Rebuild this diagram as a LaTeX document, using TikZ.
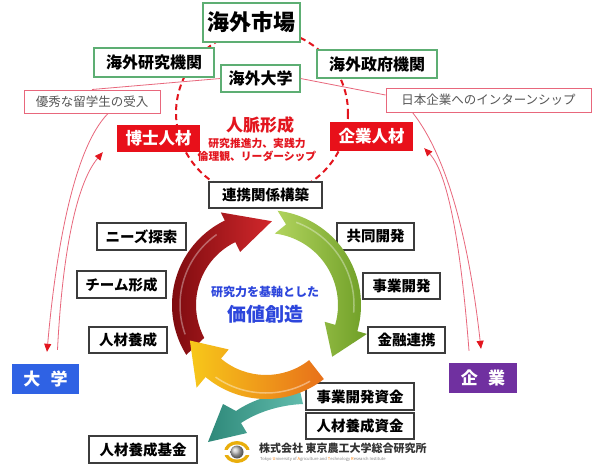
\documentclass[tikz,border=0pt]{standalone}
\usepackage{fontspec}
\setmainfont{Noto Sans CJK JP}
\usetikzlibrary{arrows.meta,calc,shadows}

\definecolor{mktgreen}{HTML}{5DAE73}
\definecolor{linkpink}{HTML}{E8677C}
\definecolor{boxred}{HTML}{E8101A}
\definecolor{dashred}{HTML}{E3151E}
\definecolor{unitblue}{HTML}{2F62E4}
\definecolor{firmpurple}{HTML}{7030A0}
\definecolor{frame}{HTML}{3C3C3C}
\definecolor{txtgray}{HTML}{555555}
\definecolor{coreblue}{HTML}{2D46DC}
\definecolor{redA}{HTML}{7A0A0E}
\definecolor{redB}{HTML}{D2282C}
\definecolor{grnA}{HTML}{B2D45E}
\definecolor{grnB}{HTML}{6E9E26}
\definecolor{yelA}{HTML}{F7C81A}
\definecolor{yelB}{HTML}{E8701A}
\definecolor{teal}{HTML}{3AAB98}
\definecolor{logogold}{HTML}{E9AE0C}

\newcommand{\fsz}[1]{\fontsize{#1}{#1}\selectfont}

\begin{document}
\begin{tikzpicture}[x=1pt,y=-1pt,
  greenbox/.style={draw=mktgreen, line width=1.2pt, fill=white, inner sep=0pt, font=\bfseries\fsz{16}},
  pinkbox/.style={draw=linkpink, line width=1pt, fill=white, inner sep=0pt, text=txtgray, font=\fsz{12.5}},
  redbox/.style={fill=boxred, inner sep=0pt, text=white, font=\bfseries\fsz{16.5}},
  tagbox/.style={draw=frame, line width=1.1pt, fill=white, inner sep=0pt, font=\bfseries\fsz{14.5},
    drop shadow={shadow xshift=1.3pt, shadow yshift=-1.3pt, opacity=0.3, fill=gray}},
  unitbox/.style={inner sep=0pt, text=white, font=\bfseries\fsz{17}},
  pinkline/.style={draw=linkpink, line width=0.8pt},
  tip/.style={-{Triangle[width=7pt,length=8pt,color=dashred]}}
]
\useasboundingbox (0,0) rectangle (596,471);
\fill[white] (0,0) rectangle (596,471);

% network ring of overseas partners
\draw[dashred, line width=2pt, dash pattern=on 6pt off 4pt] (262,113) ellipse [x radius=86, y radius=84];

% overseas partners
\node[greenbox, minimum width=97pt, minimum height=39pt, font=\bfseries\fsz{22}] (market) at (251.5,22.5) {海外市場};
\node[greenbox, minimum width=120pt, minimum height=29pt] (lab) at (154,62.5) {海外研究機関};
\node[greenbox, minimum width=79pt, minimum height=27pt] (univ) at (260.5,78.5) {海外大学};
\node[greenbox, minimum width=120pt, minimum height=28pt] (gov) at (377,64) {海外政府機関};

% exchange programmes
\node[pinkbox, minimum width=136pt, minimum height=23pt] (ryugaku) at (92,101.5) {優秀な留学生の受入};
\node[pinkbox, minimum width=205pt, minimum height=24pt] (intern) at (488.5,100) {日本企業へのインターンシップ};

% talent
\node[redbox, minimum width=83pt, minimum height=27pt] (hakase) at (158.5,138.5) {博士人材};
\node[redbox, minimum width=83pt, minimum height=29pt] (kigyojin) at (371.5,136.5) {企業人材};
\node[text=dashred, font=\bfseries\fsz{17}] (jinmyaku) at (260,125) {人脈形成};
\node[text=dashred, font=\bfseries\fsz{10.8}, align=center] (skills) at (257,150) {研究推進力、実践力\\[1.5pt]倫理観、リーダーシップ};

% home players
\node[unitbox, fill=unitblue, minimum width=67pt, minimum height=30pt] (daigaku) at (45.5,379) {大\hspace{0.6em}学};
\node[unitbox, fill=firmpurple, minimum width=68pt, minimum height=30pt] (kigyo) at (483,378) {企\hspace{0.6em}業};

% links between partners and programmes
\draw[pinkline] (univ.west) -- (ryugaku.north);
\draw[pinkline] (univ.east) -- ($(intern.north west)!0.3!(intern.south west)$);
\draw[pinkline, tip] ([xshift=16pt]ryugaku.south) .. controls (72,150) and (55,260) .. ([xshift=1.5pt,yshift=12pt]daigaku.north);
\draw[pinkline, tip] ([xshift=12pt,yshift=14pt]daigaku.north) .. controls (62,260) and (75,185) .. ([xshift=-14pt]hakase.south west);
\draw[pinkline, tip] ([xshift=27pt]intern.south west) .. controls (450,160) and (470,250) .. ([xshift=-2pt,yshift=14pt]kigyo.north);
\draw[pinkline, tip] ([xshift=-14pt,yshift=12pt]kigyo.north) .. controls (462,260) and (450,175) .. ([xshift=11pt,yshift=3pt]kigyojin.south east);

% activity tags
\node[tagbox, minimum width=113pt, minimum height=26pt] (renkei) at (265.5,195) {連携関係構築};
\node[tagbox, minimum width=89pt, minimum height=27pt] (needs) at (141.5,236.5) {ニーズ探索};
\node[tagbox, minimum width=89pt, minimum height=27pt] (team) at (121.5,284.5) {チーム形成};
\node[tagbox, minimum width=78pt, minimum height=26pt] (yousei) at (128,340) {人材養成};
\node[tagbox, minimum width=108pt, minimum height=27pt] (kikin) at (143,449.5) {人材養成基金};
\node[tagbox, minimum width=77pt, minimum height=27pt] (kyodo) at (375.5,236.5) {共同開発};
\node[tagbox, minimum width=77pt, minimum height=26pt] (jigyo) at (401.5,286) {事業開発};
\node[tagbox, minimum width=77pt, minimum height=26pt] (kinyu) at (406.5,340) {金融連携};
\node[tagbox, minimum width=108pt, minimum height=27pt] (jshikin) at (360,396.5) {事業開発資金};
\node[tagbox, minimum width=108pt, minimum height=26pt] (yshikin) at (360,426) {人材養成資金};

% teal branch towards the fund, leaving from under the cycle
\shade[left color=teal!80!black, right color=teal!80!white]
  (300,391) .. controls (276,392) and (252,400) .. (236,411)
  -- (223,404) -- (208,442) -- (247,433) -- (241,423)
  .. controls (256,413) and (278,405) .. (303,404) -- cycle;

% value creation cycle (visual angles, counter-clockwise positive)
\begin{scope}[shift={(266,305)}, yscale=-1]
  % red arrow
  \shade[shading angle=60, left color=redA, right color=redB]
    (212:94) arc[start angle=212, end angle=116, radius=94]
    -- (116:103) -- (86:84) -- (116:59) -- (116:70)
    arc[start angle=116, end angle=208, radius=70] -- cycle;
  \draw[white, opacity=0.35, line width=1.5pt] (200:86) arc[start angle=200, end angle=125, radius=86];
  % yellow arrow
  \shade[shading angle=100, left color=yelA, right color=yelB]
    (-52:94) arc[start angle=-52, end angle=-130, radius=94]
    -- (-130:108) -- (-155:84) -- (-130:58) -- (-130:70)
    arc[start angle=-130, end angle=-52, radius=70] -- cycle;
  \draw[white, opacity=0.4, line width=1.5pt] (-60:88) arc[start angle=-60, end angle=-125, radius=88];
  % green arrow
  \shade[shading angle=150, left color=grnA, right color=grnB]
    (83:95) arc[start angle=83, end angle=-16, radius=95]
    -- (-16:105) -- (-38:84) -- (-16:61) -- (-16:72)
    arc[start angle=-16, end angle=83, radius=72] -- (76:83) -- cycle;
  \draw[white, opacity=0.35, line width=1.5pt] (70:88) arc[start angle=70, end angle=-5, radius=88];
\end{scope}

\node[text=coreblue, font=\bfseries\fsz{12}] (core1) at (265,292) {研究力を基軸とした};
\node[text=coreblue, font=\bfseries\fsz{19}] (core2) at (265,314) {価値創造};

% institute logo
\fill[logogold] (237,452) ellipse [x radius=13, y radius=11];
\fill[white] (237,452) ellipse [x radius=9.5, y radius=7.5];
\fill[white] (222,449.5) rectangle (252,454.5);
\shade[ball color=gray!55] (237,452) circle [radius=6.5];
\node[anchor=west, text=black!80, font=\bfseries\fsz{11}, inner sep=0pt] (inst) at (259,448) {株式会社 東京農工大学総合研究所};
\node[anchor=west, text=gray, font=\fsz{4.1}, inner sep=0pt] (instEn) at (260,459)
  {Tokyo \textcolor{orange}{U}niversity of \textcolor{orange}{A}griculture and \textcolor{orange}{T}echnology \textcolor{orange}{R}esearch Institute};
\end{tikzpicture}
\end{document}
